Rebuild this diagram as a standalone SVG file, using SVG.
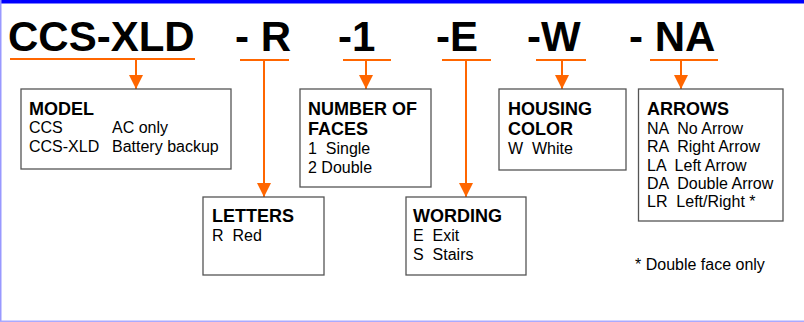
<svg xmlns="http://www.w3.org/2000/svg" width="804" height="322" viewBox="0 0 804 322">
<style>
text{font-family:"Liberation Sans",Arial,sans-serif;fill:#000;white-space:pre}
.t{font-size:42px;font-weight:bold}
.h{font-size:18px;font-weight:bold}
.b{font-size:16px}
.box{fill:#fff;stroke:#555;stroke-width:1.3}
.ul{stroke:#FF6600;stroke-width:2.2;fill:none}
.ar{stroke:#FF6600;stroke-width:2;fill:none;marker-end:url(#ah)}
</style>
<defs>
<marker id="ah" markerWidth="14" markerHeight="14" refX="14" refY="7" orient="auto" markerUnits="userSpaceOnUse">
<path d="M0,0 L14,7 L0,14 Z" fill="#FF6600"/>
</marker>
</defs>
<rect x="0" y="0" width="804" height="322" fill="#fff"/>
<rect x="0" y="0" width="804" height="3.5" fill="#0000FF"/>
<rect x="0" y="0" width="1.5" height="322" fill="#9999FF"/>
<rect x="0" y="320.5" width="804" height="1.5" fill="#AAAAFF"/>

<g id="title">
<text class="t" x="8" y="51">CCS-XLD</text>
<text class="t" x="235" y="51">- R</text>
<text class="t" x="338" y="51">-1</text>
<text class="t" x="436" y="51">-E</text>
<text class="t" x="527" y="51">-W</text>
<text class="t" x="629" y="51">- NA</text>
</g>

<g id="connectors">
<line class="ul" x1="10" y1="59" x2="195" y2="59"/>
<line class="ul" x1="240" y1="60" x2="289" y2="60"/>
<line class="ul" x1="343" y1="60" x2="391" y2="60"/>
<line class="ul" x1="442" y1="60" x2="491" y2="60"/>
<line class="ul" x1="536" y1="60" x2="586" y2="60"/>
<line class="ul" x1="650" y1="60" x2="718" y2="60"/>
<line class="ar" x1="136" y1="59" x2="136" y2="89"/>
<line class="ar" x1="264" y1="60" x2="264" y2="197"/>
<line class="ar" x1="366" y1="60" x2="366" y2="89"/>
<line class="ar" x1="466" y1="60" x2="466" y2="197"/>
<line class="ar" x1="562" y1="60" x2="562" y2="89"/>
<line class="ar" x1="681" y1="60" x2="681" y2="89"/>
</g>

<g id="model">
<rect class="box" x="21" y="89" width="210" height="80"/>
<text class="h" x="29" y="115">MODEL</text>
<text class="b" x="29" y="133">CCS</text>
<text class="b" x="112" y="133">AC only</text>
<text class="b" x="29" y="152">CCS-XLD</text>
<text class="b" x="112" y="152">Battery backup</text>
</g>

<g id="letters">
<rect class="box" x="203" y="197" width="121" height="78"/>
<text class="h" x="212" y="222">LETTERS</text>
<text class="b" x="212" y="241">R  Red</text>
</g>

<g id="faces">
<rect class="box" x="300" y="89" width="131" height="98"/>
<text class="h" x="308" y="115">NUMBER OF</text>
<text class="h" x="308" y="135">FACES</text>
<text class="b" x="308" y="154">1  Single</text>
<text class="b" x="308" y="173">2 Double</text>
</g>

<g id="wording">
<rect class="box" x="406" y="197" width="120" height="78"/>
<text class="h" x="413" y="222">WORDING</text>
<text class="b" x="413" y="241">E  Exit</text>
<text class="b" x="413" y="260">S  Stairs</text>
</g>

<g id="housing">
<rect class="box" x="499" y="89" width="127" height="81"/>
<text class="h" x="508" y="115">HOUSING</text>
<text class="h" x="508" y="135">COLOR</text>
<text class="b" x="508" y="154">W  White</text>
</g>

<g id="arrows">
<rect class="box" x="638.5" y="89" width="144.5" height="132"/>
<text class="h" x="647" y="115">ARROWS</text>
<text class="b" x="647" y="134">NA  No Arrow</text>
<text class="b" x="647" y="152">RA  Right Arrow</text>
<text class="b" x="647" y="171">LA  Left Arrow</text>
<text class="b" x="647" y="189">DA  Double Arrow</text>
<text class="b" x="647" y="207">LR  Left/Right *</text>
</g>

<g id="note">
<text class="b" x="635" y="270">* Double face only</text>
</g>
</svg>
